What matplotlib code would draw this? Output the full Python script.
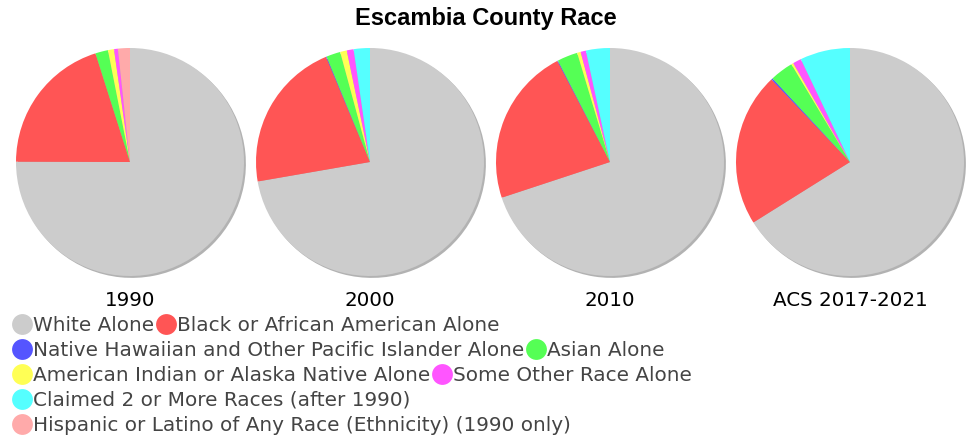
import matplotlib
matplotlib.use("Agg")
import matplotlib.pyplot as plt
from matplotlib.lines import Line2D

plt.rcParams["font.family"] = ["DejaVu Sans"]

# race shares (percent), one list per survey
years = ["1990", "2000", "2010", "ACS 2017-2021"]
categories = [
    "White Alone",
    "Black or African American Alone",
    "Native Hawaiian and Other Pacific Islander Alone",
    "Asian Alone",
    "American Indian or Alaska Native Alone",
    "Some Other Race Alone",
    "Claimed 2 or More Races (after 1990)",
    "Hispanic or Latino of Any Race (Ethnicity) (1990 only)",
]
colors = ["#cccccc", "#ff5555", "#5555ff", "#55ff55",
          "#ffff55", "#ff55ff", "#55ffff", "#ffaaaa"]

share_1990 = [75.2, 20.1, 0.0, 1.8, 0.86, 0.55, 0.0, 1.7]
share_2000 = [72.2, 21.4, 0.1, 2.0, 0.94, 0.97, 2.3, 0.0]
share_2010 = [69.9, 22.4, 0.1, 2.9, 0.5, 0.75, 3.4, 0.0]
share_acs = [66.1, 21.8, 0.2, 3.3, 0.3, 1.2, 7.1, 0.0]
shares = [share_1990, share_2000, share_2010, share_acs]

W, H = 972, 440
fig = plt.figure(figsize=(9.72, 4.4), dpi=100)

fig.text(0.5, 1 - 18 / H, "Escambia County Race", ha="center", va="center",
         fontsize=17, fontweight="bold", family="Liberation Sans")

centers = [130, 370, 610, 850]
cy = 162
r = 114
lim = 1.05
for i, (cx, vals) in enumerate(zip(centers, shares)):
    side = 2 * r * lim
    ax = fig.add_axes([(cx - side / 2) / W, 1 - (cy + side / 2) / H, side / W, side / H])
    ax.pie(vals, colors=colors, startangle=90, counterclock=False,
           shadow={"ox": 0.012, "oy": -0.012, "shade": 0.5},
           wedgeprops={"linewidth": 0})
    ax.set_xlim(-lim, lim)
    ax.set_ylim(-lim, lim)
    ax.set_aspect("equal")
    ax.axis("off")
    fig.text(cx / W, 1 - 300 / H, years[i], ha="center", va="center", fontsize=14.3)

# legend rows laid out like flowing text
rows = [[0, 1], [2, 3], [4, 5], [6], [7]]
row_y = [325, 350, 375, 400, 425]
for idx, y in zip(rows, row_y):
    handles = [Line2D([], [], linestyle="none", marker="o", markersize=15,
                      markerfacecolor=colors[k], markeredgewidth=0) for k in idx]
    labels = [categories[k] for k in idx]
    leg = fig.legend(handles, labels, loc="center left", bbox_to_anchor=(11 / W, 1 - y / H),
                     ncol=len(idx), frameon=False, fontsize=14.4, handlelength=1.05,
                     handletextpad=0.05, columnspacing=0.05, borderpad=0, borderaxespad=0)
    for t in leg.get_texts():
        t.set_color("#444444")

fig.savefig("out.png", dpi=100)
